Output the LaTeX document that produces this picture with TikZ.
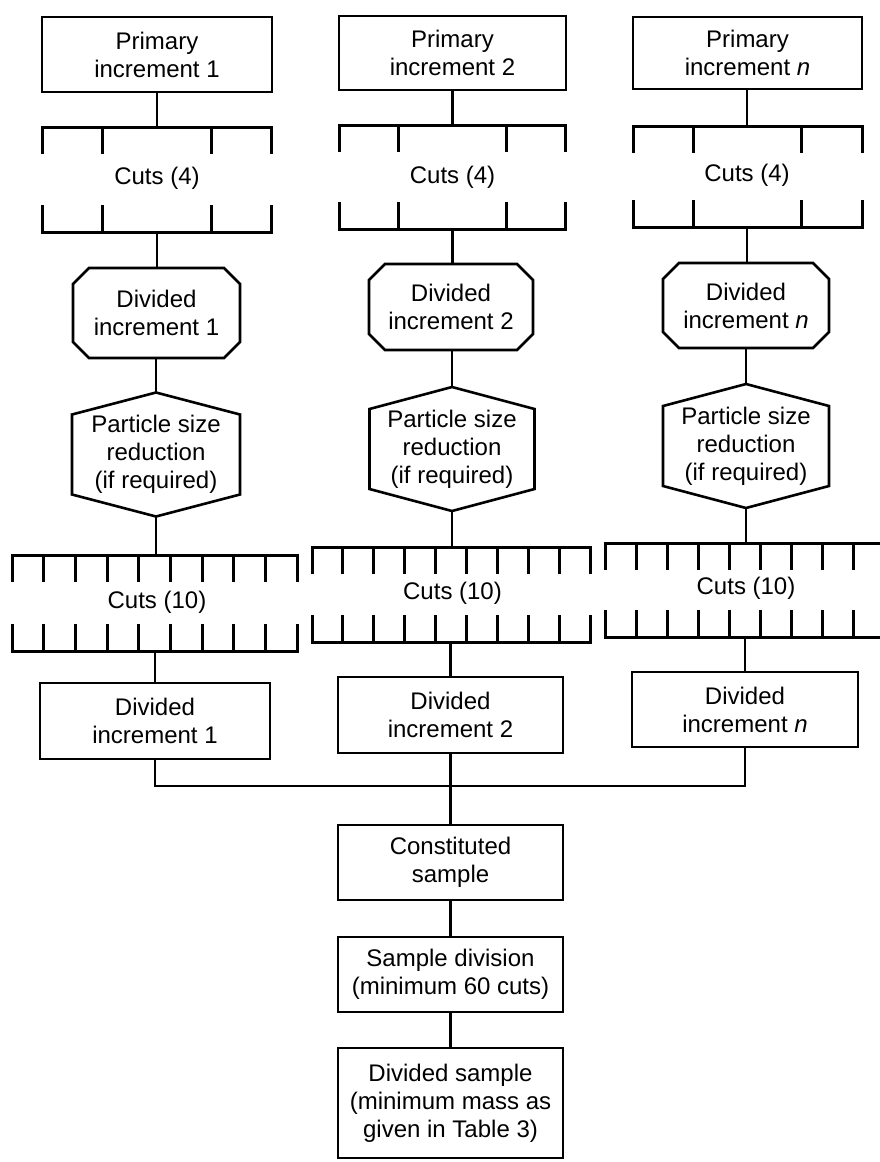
\documentclass[tikz,border=0pt]{standalone}
\usepackage{fontspec}
\setmainfont{Liberation Sans}
\tikzset{
  txt/.style={align=center, inner sep=0pt, font=\fontsize{24}{28}\selectfont},
  boxn/.style={txt, draw, line width=2.6pt, rectangle},
  shapeline/.style={line width=2.6pt, line join=miter},
  conn/.style={line width=2.2pt},
  cutline/.style={line width=3pt, line join=miter},
}
% cuts row: #1 name, #2 cx, #3 xl, #4 xr, #5 ytop, #6 ybot, #7 inner ticks, #8 label y, #9 label
\newcommand\cutsrow[9]{%
  \draw[cutline] (#3,#5+27) -- (#3,#5) -- (#4,#5) -- (#4,#5+27);
  \draw[cutline] (#3,#6-27) -- (#3,#6) -- (#4,#6) -- (#4,#6-27);
  \foreach \tx in {#7} {\draw[cutline] (\tx,#5) -- (\tx,#5+27); \draw[cutline] (\tx,#6) -- (\tx,#6-27);}
  \coordinate (#1t) at (#2,#5);
  \coordinate (#1b) at (#2,#6);
  \node[txt] (#1) at (#2,#8) {#9};
}
% hexagon: #1 name, #2 cx, #3 cy, #4 half width, #5 text
\newcommand\hexnode[5]{%
  \node[txt] (#1) at (#2,#3) {#5};
  \draw[shapeline] (#2,#3-62) -- (#2+#4,#3-40) -- (#2+#4,#3+40) -- (#2,#3+62) -- (#2-#4,#3+40) -- (#2-#4,#3-40) -- cycle;
  \coordinate (#1t) at (#2,#3-62);
  \coordinate (#1b) at (#2,#3+62);
}
% octagon: #1 name, #2 cx, #3 cy, #4 half width, #5 half height, #6 text
\newcommand\octnode[6]{%
  \node[txt] (#1) at (#2,#3) {#6};
  \draw[shapeline] (#2-#4+16,#3-#5) -- (#2+#4-16,#3-#5) -- (#2+#4,#3-#5+16) -- (#2+#4,#3+#5-16)
     -- (#2+#4-16,#3+#5) -- (#2-#4+16,#3+#5) -- (#2-#4,#3+#5-16) -- (#2-#4,#3-#5+16) -- cycle;
  \coordinate (#1t) at (#2,#3-#5);
  \coordinate (#1b) at (#2,#3+#5);
}
\begin{document}
\begin{tikzpicture}[x=1pt,y=-1pt]
\useasboundingbox (0,0) rectangle (880,1162);
\clip (0,0) rectangle (880,1162);

% ---------- column 1 ----------
\node[boxn, minimum width=230pt, minimum height=75pt] (p1) at (157,54.5) {Primary\\increment 1};
\cutsrow{ca}{157}{42}{271}{127}{232}{102,211}{178}{Cuts (4)}
\octnode{o1}{156.5}{313}{83.5}{45}{Divided\\increment 1}
\hexnode{h1}{156}{454.5}{84}{Particle size\\reduction\\(if required)}
\cutsrow{cb}{157}{12}{297}{555}{651}{43.7,75.3,107,138.7,170.3,202,233.7,265.3}{602}{Cuts (10)}
\node[boxn, minimum width=230pt, minimum height=76pt] (d1) at (155,721) {Divided\\increment 1};

% ---------- column 2 ----------
\node[boxn, minimum width=227pt, minimum height=74pt] (p2) at (452.5,53) {Primary\\increment 2};
\cutsrow{cc}{452.5}{339}{565}{125}{229}{398,506}{177}{Cuts (4)}
\octnode{o2}{451}{307}{82}{43}{Divided\\increment 2}
\hexnode{h2}{452}{449}{82.5}{Particle size\\reduction\\(if required)}
\cutsrow{cd}{452.5}{312}{590}{547}{642}{342.9,373.8,404.7,435.6,466.4,497.3,528.2,559.1}{593}{Cuts (10)}
\node[boxn, minimum width=225pt, minimum height=76pt] (d2) at (450.5,715) {Divided\\increment 2};

% ---------- column 3 ----------
\node[boxn, minimum width=229pt, minimum height=72pt] (p3) at (747.5,53) {Primary\\increment \textit{n}};
\cutsrow{ce}{747}{633}{862}{126}{227}{693,801}{175}{Cuts (4)}
\octnode{o3}{746}{305.5}{83}{42.5}{Divided\\increment \textit{n}}
\hexnode{h3}{746}{446}{83}{Particle size\\reduction\\(if required)}
\cutsrow{cf}{746}{605}{885}{543}{637}{636,667,698,729,760,791,822,853}{588}{Cuts (10)}
\node[boxn, minimum width=226pt, minimum height=75pt] (d3) at (745,709.5) {Divided\\increment \textit{n}};

% ---------- bottom ----------
\node[boxn, minimum width=225pt, minimum height=75pt] (cs) at (450.5,862.5) {Constituted\\sample};
\node[boxn, minimum width=225pt, minimum height=75pt] (sd) at (450.5,974.5) {Sample division\\(minimum 60 cuts)};
\node[boxn, minimum width=225pt, minimum height=110pt] (ds) at (450.5,1103) {Divided sample\\(minimum mass as\\given in Table 3)};
\coordinate (m) at (450.5,786);

% ---------- connectors ----------
\draw[conn] (p1.south) -- (cat);
\draw[conn] (cab) -- (o1t -| cab);
\draw[conn] (o1b -| h1t) -- (h1t);
\draw[conn] (h1b) -- (cbt -| h1b);
\draw[conn] (cbb -| d1.north) -- (d1.north);

\draw[conn] (p2.south) -- (cct);
\draw[conn] (ccb) -- (o2t -| ccb);
\draw[conn] (o2b -| h2t) -- (h2t);
\draw[conn] (h2b) -- (cdt -| h2b);
\draw[conn] (cdb -| d2.north) -- (d2.north);

\draw[conn] (p3.south -| cet) -- (cet);
\draw[conn] (ceb) -- (o3t -| ceb);
\draw[conn] (o3b) -- (h3t);
\draw[conn] (h3b) -- (cft);
\draw[conn] (cfb -| d3.north) -- (d3.north);

\draw[conn] (d1.south) -- (d1.south |- m) -- (d3.south |- m) -- (d3.south);
\draw[conn] (d2.south -| cs.north) -- (cs.north);
\draw[conn] (cs.south) -- (sd.north);
\draw[conn] (sd.south) -- (ds.north);
\end{tikzpicture}
\end{document}
